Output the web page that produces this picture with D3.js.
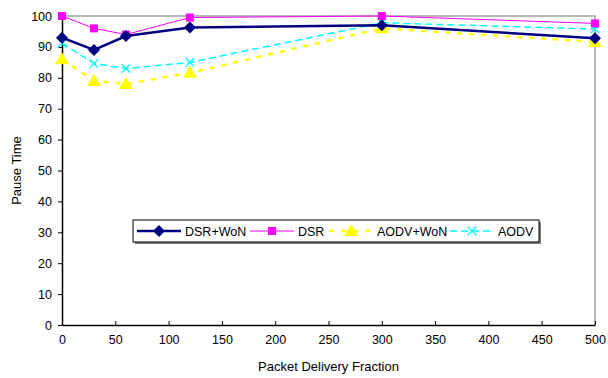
<!DOCTYPE html>
<html>
<head>
<meta charset="utf-8">
<script src="https://d3js.org/d3.v7.min.js"></script>
<style>
  body { margin: 0; background: #fff; }
  text { font-family: "Liberation Sans", "DejaVu Sans", sans-serif; }
</style>
</head>
<body>
<div id="chart"></div>
<script>
// values
var xValues = [0, 30, 60, 120, 300, 500];
var dsrWon  = [93, 89, 93.5, 96.3, 97, 92.8];
var dsr     = [100, 96, 94, 99.5, 100, 97.6];
var aodvWon = [86, 79, 78, 81.6, 96, 91.6];
var aodv    = [91.2, 84.6, 83, 85, 97.8, 95.8];
var seriesNames = ["DSR+WoN", "DSR", "AODV+WoN", "AODV"];
var xTicks = [0, 50, 100, 150, 200, 250, 300, 350, 400, 450, 500];
var yTicks = [0, 10, 20, 30, 40, 50, 60, 70, 80, 90, 100];

var W = 608, H = 378;
var m = {left: 62, right: 595, top: 16, bottom: 325};

var svg = d3.select("#chart").append("svg")
  .attr("width", W).attr("height", H);

var x = d3.scaleLinear().domain([0, 500]).range([m.left, m.right]);
var y = d3.scaleLinear().domain([0, 100]).range([m.bottom, m.top]);

// gray frame on top and right
svg.append("path")
  .attr("d", "M" + m.left + "," + m.top + "H" + m.right + "V" + m.bottom)
  .attr("fill", "none").attr("stroke", "#a0a0a0").attr("stroke-width", 1.5);

// axes
var xAxis = svg.append("g")
  .attr("transform", "translate(0," + m.bottom + ")")
  .call(d3.axisBottom(x).tickValues(xTicks).tickSizeInner(-4).tickSizeOuter(0).tickPadding(10));
var yAxis = svg.append("g")
  .attr("transform", "translate(" + m.left + ",0)")
  .call(d3.axisLeft(y).tickValues(yTicks).tickSizeInner(4).tickSizeOuter(0).tickPadding(6));
[xAxis, yAxis].forEach(function(a) {
  a.select(".domain").attr("stroke", "#000").attr("stroke-width", 1.5);
  a.selectAll(".tick line").attr("stroke", "#000");
  a.selectAll("text").style("font-size", "12.5px").attr("fill", "#000");
});

svg.append("text")
  .attr("x", (m.left + m.right) / 2).attr("y", 371)
  .attr("text-anchor", "middle").style("font-size", "13px")
  .text("Packet Delivery Fraction");
svg.append("text")
  .attr("transform", "translate(21," + ((m.top + m.bottom) / 2) + ") rotate(-90)")
  .attr("text-anchor", "middle").style("font-size", "13px")
  .text("Pause Time");

var series = [
  {name: seriesNames[0], vals: dsrWon,  color: "#000080", width: 2.5, dash: null,  marker: "diamond"},
  {name: seriesNames[1], vals: dsr,     color: "#ff00ff", width: 1,   dash: null,  marker: "square"},
  {name: seriesNames[2], vals: aodvWon, color: "#ffff00", width: 2.5, dash: "5,7", marker: "triangle"},
  {name: seriesNames[3], vals: aodv,    color: "#00ffff", width: 1.5, dash: "7,4", marker: "cross"}
];

var line = d3.line()
  .x(function(d) { return x(d[0]); })
  .y(function(d) { return y(d[1]); });

function drawMarker(g, type, color, cx, cy) {
  if (type === "diamond") {
    g.append("path").attr("d", "M0,-6L6,0L0,6L-6,0Z")
      .attr("transform", "translate(" + cx + "," + cy + ")").attr("fill", color);
  } else if (type === "square") {
    g.append("rect").attr("x", cx - 4).attr("y", cy - 4).attr("width", 8).attr("height", 8)
      .attr("fill", color);
  } else if (type === "triangle") {
    g.append("path").attr("d", "M0,-7L7,5L-7,5Z")
      .attr("transform", "translate(" + cx + "," + cy + ")").attr("fill", color);
  } else {
    g.append("path").attr("d", d3.symbol(d3.symbolX, 50)())
      .attr("transform", "translate(" + cx + "," + cy + ")")
      .attr("fill", "none").attr("stroke", color).attr("stroke-width", 1.3);
  }
}

// draw order: aodv+won and aodv behind, dsr lines on top
[2, 3, 1, 0].forEach(function(i) {
  var s = series[i];
  var pts = xValues.map(function(v, j) { return [v, s.vals[j]]; });
  var g = svg.append("g");
  g.append("path").datum(pts).attr("d", line)
    .attr("fill", "none").attr("stroke", s.color).attr("stroke-width", s.width)
    .attr("stroke-dasharray", s.dash);
  pts.forEach(function(p) { drawMarker(g, s.marker, s.color, x(p[0]), y(p[1])); });
});

// legend
var lg = svg.append("g");
lg.append("rect").attr("x", 135).attr("y", 222).attr("width", 406).attr("height", 22)
  .attr("fill", "#808080");
lg.append("rect").attr("x", 133).attr("y", 220).attr("width", 406).attr("height", 22)
  .attr("fill", "#fff").attr("stroke", "#000").attr("stroke-width", 1);
var legX = [137, 250, 329, 450];
series.forEach(function(s, i) {
  var lx = legX[i], ly = 231;
  lg.append("line").attr("x1", lx).attr("x2", lx + 44).attr("y1", ly).attr("y2", ly)
    .attr("stroke", s.color).attr("stroke-width", s.width).attr("stroke-dasharray", s.dash);
  drawMarker(lg, s.marker, s.color, lx + 22, ly);
  lg.append("text").attr("x", lx + 48).attr("y", ly + 4.5)
    .style("font-size", "12.5px").text(s.name);
});
</script>
</body>
</html>
